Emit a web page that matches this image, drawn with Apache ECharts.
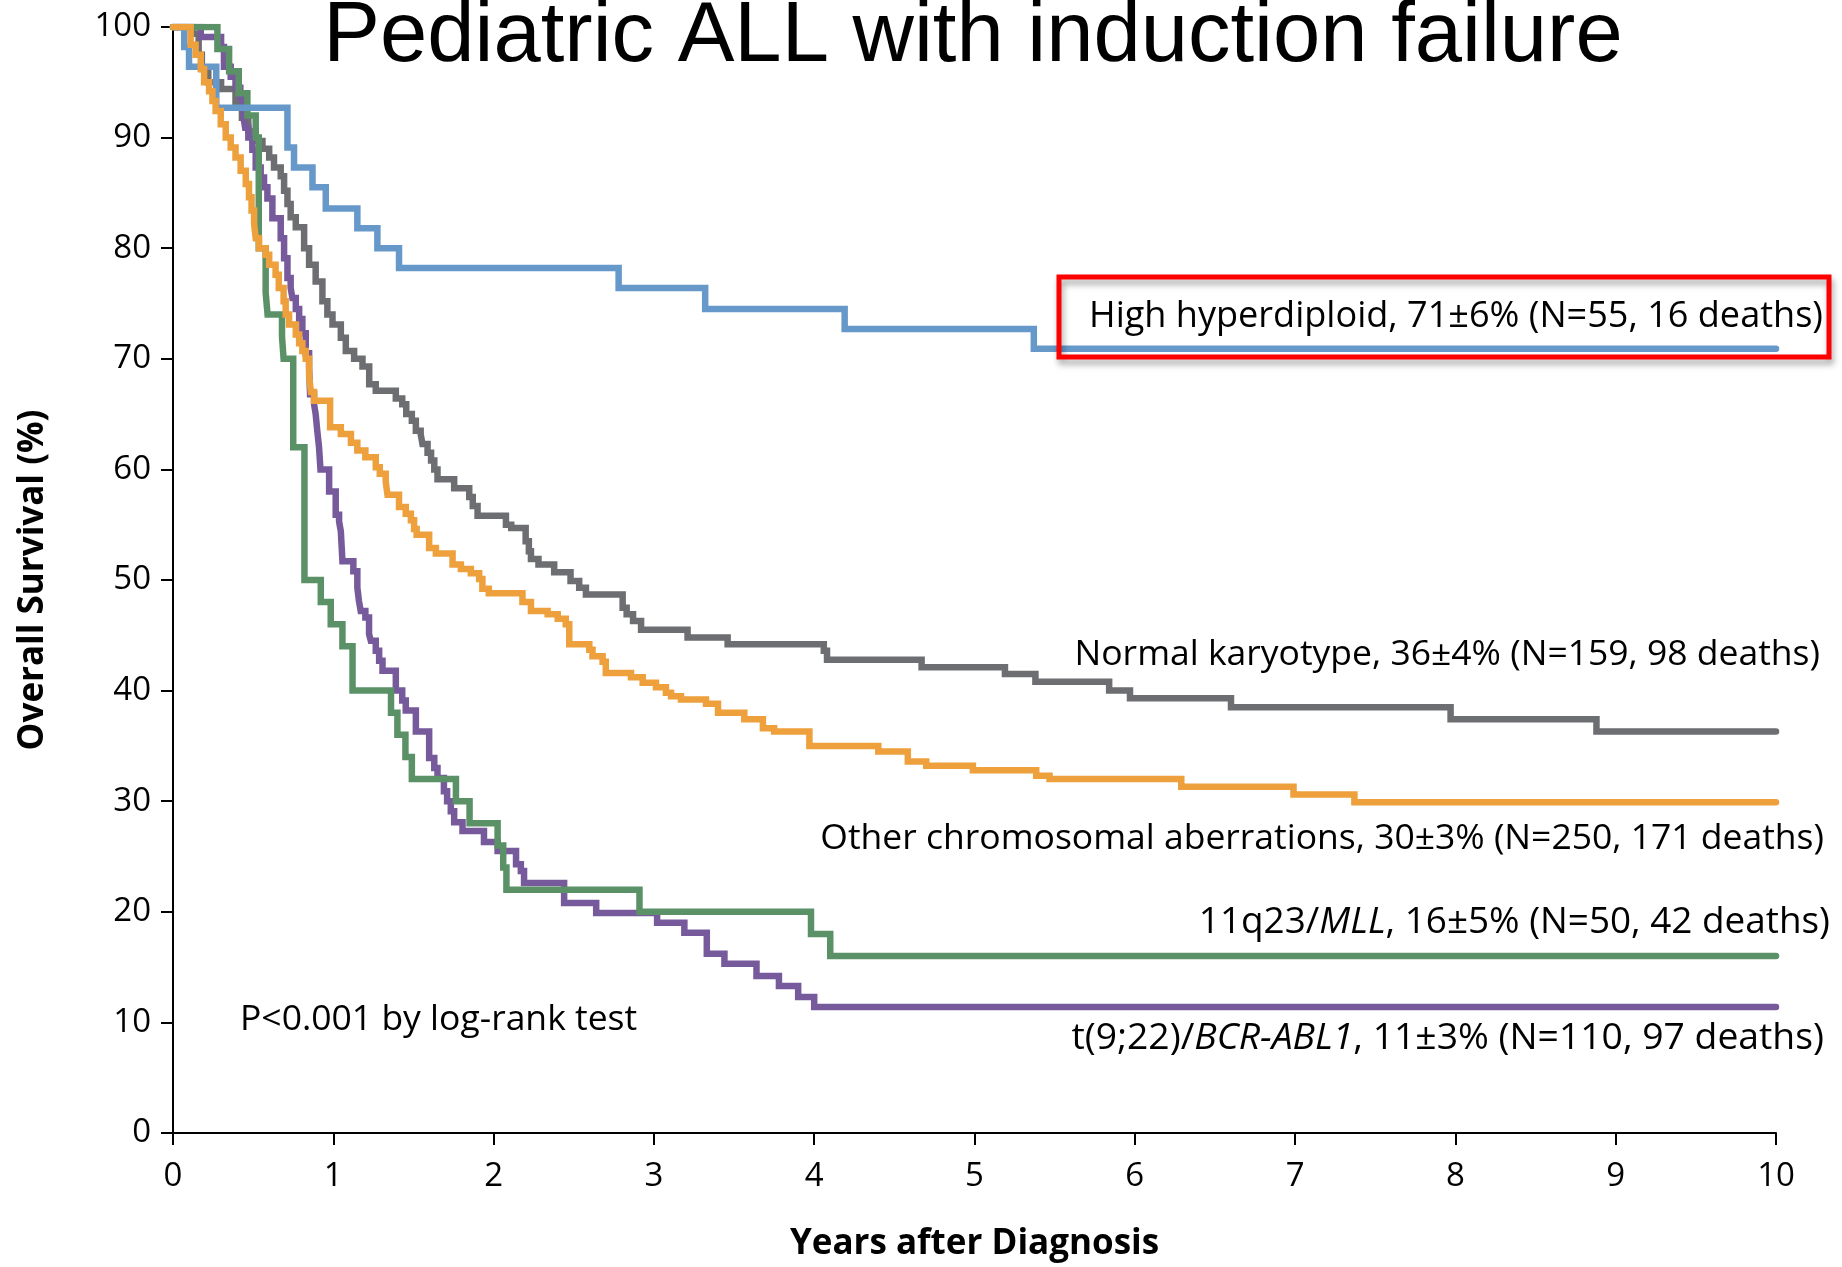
<!DOCTYPE html>
<html>
<head>
<meta charset="utf-8">
<script src="https://cdn.jsdelivr.net/npm/echarts@6/dist/echarts.min.js"></script>
<style>
  html, body { margin: 0; padding: 0; background: #ffffff; }
  #chart { width: 1842px; height: 1267px; }
</style>
</head>
<body>
<div id="chart"></div>
<script>
// ---- Data (years after diagnosis, overall survival %) ----
const xTicks = [0, 1, 2, 3, 4, 5, 6, 7, 8, 9, 10];
const yTicks = [0, 10, 20, 30, 40, 50, 60, 70, 80, 90, 100];

// High hyperdiploid
const hhT = [0, 0.07, 0.1, 0.27, 0.714, 0.755, 0.87, 0.953, 1.15, 1.275, 1.41, 2.78, 3.32, 4.19, 5.37, 10];
const hhS = [100, 98.2, 96.4, 92.7, 89.1, 87.3, 85.5, 83.6, 81.8, 80.0, 78.2, 76.4, 74.5, 72.7, 70.9, 70.9];

// Normal karyotype
const nkT = [0, 0.12, 0.16, 0.18, 0.22, 0.30, 0.39, 0.43, 0.47, 0.516, 0.558, 0.6, 0.63, 0.672, 0.693, 0.714, 0.734, 0.766, 0.818, 0.849, 0.89, 0.932, 0.963, 0.995, 1.047, 1.078, 1.13, 1.182, 1.224, 1.265, 1.39, 1.43, 1.455, 1.49, 1.515, 1.545, 1.556, 1.588, 1.61, 1.63, 1.65, 1.754, 1.848, 1.87, 1.9, 2.077, 2.11, 2.2, 2.22, 2.233, 2.28, 2.378, 2.48, 2.534, 2.576, 2.805, 2.83, 2.87, 2.92, 3.21, 3.46, 4.06, 4.08, 4.67, 5.19, 5.38, 5.84, 5.97, 6.60, 7.97, 8.88, 10];
const nkS = [100, 99.4, 97.5, 96.2, 95.0, 94.4, 93.1, 91.8, 90.6, 89.7, 89.0, 88.2, 87.3, 86.5, 85.2, 84.0, 82.8, 81.9, 80.0, 78.5, 77.0, 75.2, 74.0, 73.1, 71.9, 70.7, 70.0, 69.3, 67.7, 67.1, 66.4, 65.9, 65.0, 64.4, 63.5, 63.2, 62.3, 61.5, 60.8, 60.0, 59.1, 58.3, 57.5, 56.7, 55.8, 55.0, 54.7, 53.5, 52.6, 51.9, 51.4, 50.7, 49.9, 49.3, 48.7, 47.5, 46.9, 46.3, 45.5, 44.8, 44.2, 43.6, 42.8, 42.1, 41.5, 40.8, 40.0, 39.3, 38.5, 37.4, 36.3, 36.3];

// Other chromosomal aberrations
const ocT = [0, 0.11, 0.141, 0.173, 0.194, 0.225, 0.246, 0.266, 0.298, 0.329, 0.36, 0.39, 0.422, 0.454, 0.474, 0.49, 0.506, 0.516, 0.537, 0.578, 0.6, 0.64, 0.66, 0.69, 0.703, 0.724, 0.766, 0.787, 0.807, 0.828, 0.849, 0.86, 0.88, 0.98, 1.047, 1.11, 1.15, 1.2, 1.265, 1.29, 1.327, 1.338, 1.41, 1.452, 1.484, 1.504, 1.52, 1.598, 1.64, 1.744, 1.796, 1.858, 1.91, 1.93, 1.97, 2.18, 2.233, 2.337, 2.4, 2.45, 2.472, 2.597, 2.617, 2.68, 2.70, 2.857, 2.93, 3.013, 3.075, 3.107, 3.169, 3.325, 3.4, 3.564, 3.68, 3.75, 3.97, 4.4, 4.584, 4.699, 4.99, 5.385, 5.468, 6.29, 6.99, 7.37, 10];
const ocS = [100, 98.4, 97.5, 96.2, 95.0, 94.2, 93.3, 92.4, 91.2, 90.0, 89.1, 88.2, 87.0, 85.8, 84.6, 83.4, 82.2, 80.9, 80.0, 79.4, 78.5, 77.6, 76.4, 75.2, 74.0, 73.1, 72.2, 71.4, 70.7, 70.0, 68.5, 67.0, 66.2, 63.8, 63.2, 62.4, 61.7, 61.1, 60.2, 59.6, 58.9, 57.7, 56.6, 56.0, 55.4, 54.6, 54.1, 52.9, 52.4, 51.4, 51.0, 50.6, 50.1, 49.2, 48.8, 48.0, 47.2, 46.9, 46.5, 46.0, 44.2, 43.7, 43.1, 42.6, 41.6, 41.2, 40.7, 40.3, 39.8, 39.5, 39.2, 38.8, 38.0, 37.4, 36.6, 36.3, 35.0, 34.5, 33.6, 33.2, 32.8, 32.3, 32.0, 31.3, 30.6, 29.9, 29.9];

// 11q23/MLL
const mllT = [0, 0.277, 0.35, 0.41, 0.464, 0.516, 0.535, 0.578, 0.59, 0.68, 0.69, 0.75, 0.82, 0.922, 0.984, 1.057, 1.12, 1.36, 1.40, 1.45, 1.49, 1.765, 1.85, 2.025, 2.06, 2.08, 2.91, 3.98, 4.1, 10];
const mllS = [100, 98, 96, 94, 92, 90, 80, 76, 74, 72, 70, 62, 50, 48, 46, 44, 40, 38, 36, 34, 32, 30, 28, 26, 24, 22, 20, 18, 16, 16];

// t(9;22)/BCR-ABL1
const bcT = [0, 0.173, 0.30, 0.318, 0.36, 0.39, 0.42, 0.433, 0.44, 0.45, 0.47, 0.495, 0.516, 0.547, 0.568, 0.589, 0.62, 0.672, 0.693, 0.714, 0.734, 0.745, 0.766, 0.787, 0.807, 0.828, 0.849, 0.855, 0.88, 0.89, 0.9, 0.911, 0.92, 0.974, 1.015, 1.036, 1.047, 1.057, 1.125, 1.15, 1.16, 1.171, 1.2, 1.223, 1.234, 1.265, 1.286, 1.307, 1.39, 1.43, 1.452, 1.515, 1.598, 1.63, 1.65, 1.69, 1.71, 1.733, 1.754, 1.806, 1.94, 2.025, 2.14, 2.17, 2.19, 2.44, 2.64, 3.02, 3.19, 3.33, 3.44, 3.64, 3.78, 3.9, 4.0, 10];
const bcS = [100, 99.1, 98.2, 96.4, 95.5, 94.5, 93.6, 92.7, 91.8, 90.9, 90.0, 88.9, 87.3, 86.4, 85.5, 84.5, 82.7, 80.9, 79.1, 77.3, 76.4, 75.5, 74.5, 73.6, 72.3, 70.5, 69.2, 66.8, 65.9, 65.0, 63.5, 62.0, 60.0, 58.0, 55.9, 55.3, 54.4, 51.7, 50.8, 49.3, 48.1, 47.2, 46.6, 45.1, 44.5, 43.6, 42.7, 41.8, 40.0, 39.1, 38.2, 36.3, 33.9, 33.0, 32.1, 30.9, 30.0, 29.1, 28.1, 27.3, 26.3, 25.5, 24.3, 23.7, 22.6, 20.8, 19.9, 19.0, 18.1, 16.2, 15.3, 14.2, 13.3, 12.3, 11.4, 11.4];

// Texts
const titleText = 'Pediatric ALL with induction failure';
const xName = 'Years after Diagnosis';
const yName = 'Overall Survival (%)';
const pText = 'P<0.001 by log-rank test';
const labelHH = 'High hyperdiploid, 71±6% (N=55, 16 deaths)';
const labelNK = 'Normal karyotype, 36±4% (N=159, 98 deaths)';
const labelOC = 'Other chromosomal aberrations, 30±3% (N=250, 171 deaths)';
const labelMLL = '11q23/{i|MLL}, 16±5% (N=50, 42 deaths)';
const labelBC = 't(9;22)/{i|BCR-ABL1}, 11±3% (N=110, 97 deaths)';

// ---- Chart ----
const FONT = '"Open Sans", Lato, sans-serif';
const pairs = (T, S) => T.map((t, i) => [t, S[i]]);
const mk = (name, T, S, color, z) => ({
  name, type: 'line', step: 'end', data: pairs(T, S),
  showSymbol: false, symbol: 'none', z,
  lineStyle: { color, width: 6.5, cap: 'round', join: 'miter' },
  emphasis: { disabled: true }, silent: true
});
const txt = (text, x, y, align, fs) => ({
  type: 'text', x, y, z: 61,
  style: { text, fontFamily: FONT, fontSize: fs, fill: '#000', align, verticalAlign: 'middle',
    rich: { i: { fontFamily: FONT, fontSize: fs, fontStyle: 'italic', fill: '#000' } } }
});

const chart = echarts.init(document.getElementById('chart'), null, { renderer: 'canvas' });
const option = {
  animation: false,
  backgroundColor: '#ffffff',
  grid: { left: 173, right: 66, top: 27, bottom: 132, containLabel: false },
  xAxis: {
    type: 'value', min: 0, max: 10, interval: 1,
    name: xName, nameLocation: 'middle', nameGap: 94,
    nameTextStyle: { fontFamily: FONT, fontSize: 35, fontWeight: 'bold', color: '#000' },
    axisLine: { show: true, lineStyle: { color: '#000', width: 2 } },
    axisTick: { show: true, inside: false, length: 12, lineStyle: { color: '#000', width: 2 } },
    axisLabel: { fontFamily: FONT, fontSize: 33, color: '#000', margin: 27,
      formatter: v => xTicks.includes(v) ? String(v) : '' },
    splitLine: { show: false }
  },
  yAxis: {
    type: 'value', min: 0, max: 100, interval: 10,
    name: yName, nameLocation: 'middle', nameGap: 122, nameRotate: 90,
    nameTextStyle: { fontFamily: FONT, fontSize: 35, fontWeight: 'bold', color: '#000' },
    axisLine: { show: true, lineStyle: { color: '#000', width: 2 } },
    axisTick: { show: true, inside: false, length: 12, lineStyle: { color: '#000', width: 2 } },
    axisLabel: { fontFamily: FONT, fontSize: 33, color: '#000', margin: 22,
      formatter: v => yTicks.includes(v) ? String(v) : '' },
    splitLine: { show: false }
  },
  series: [
    mk('Normal karyotype', nkT, nkS, '#6d6e71', 2),
    mk('t(9;22)/BCR-ABL1', bcT, bcS, '#765a9b', 3),
    mk('11q23/MLL', mllT, mllS, '#5b9167', 4),
    mk('High hyperdiploid', hhT, hhS, '#6699c9', 5),
    mk('Other chromosomal aberrations', ocT, ocS, '#eda03c', 6)
  ],
  graphic: [
    { type: 'text', x: 973, y: 38, z: 50,
      style: { text: titleText, font: '85px "Liberation Sans", Arial, sans-serif', fill: '#000', align: 'center', verticalAlign: 'middle' } },
    txt(pText, 240, 1020, 'left', 35.5),
    { type: 'rect', z: 60,
      shape: { x: 1059, y: 277, width: 770, height: 80 },
      style: { fill: null, stroke: '#ff0000', lineWidth: 5,
        shadowColor: 'rgba(0,0,0,0.35)', shadowBlur: 6, shadowOffsetX: 2, shadowOffsetY: 5 } },
    txt(labelHH, 1823, 317, 'right', 36.1),
    txt(labelNK, 1820, 655, 'right', 35.5),
    txt(labelOC, 1824, 839, 'right', 35.5),
    txt(labelMLL, 1830, 922, 'right', 36.9),
    txt(labelBC, 1824, 1038, 'right', 37.3)
  ]
};
chart.setOption(option);
</script>
</body>
</html>
